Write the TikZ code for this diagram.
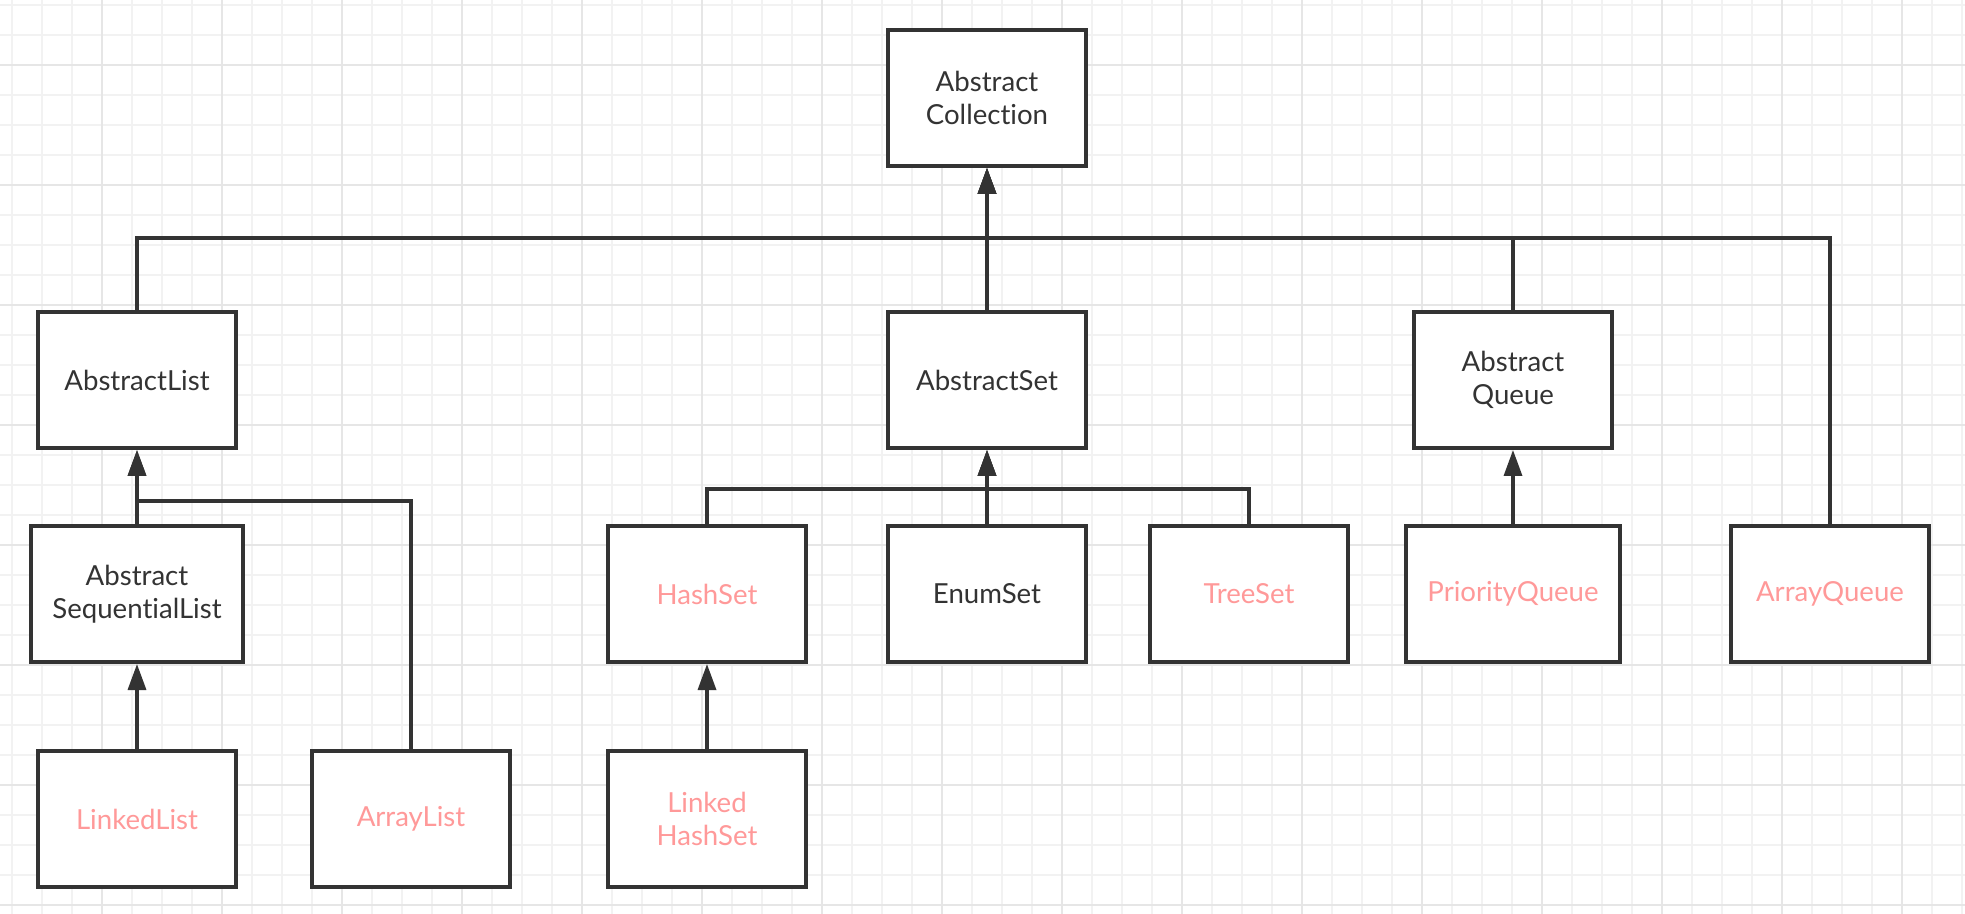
\documentclass[tikz,border=0pt]{standalone}
\usepackage{fontspec}
\setmainfont{Lato}[Ligatures=NoCommon]
\usepackage{tikz}
\usetikzlibrary{arrows.meta, positioning}
\definecolor{inkcolor}{HTML}{333333}
\definecolor{implcolor}{HTML}{FF9999}
\definecolor{minorcolor}{HTML}{F2F2F2}
\definecolor{majorcolor}{HTML}{E6E6E6}

\begin{document}
\begin{tikzpicture}[
    x=0.5pt, y=-0.5pt,
    cls/.style={draw=inkcolor, line width=2pt, fill=white, minimum width=99pt, minimum height=68pt,
                align=center, text=inkcolor, font=\fontsize{13.8}{16.5}\selectfont, inner sep=0pt},
    impl/.style={cls, text=implcolor},
    inh/.style={draw=inkcolor, line width=1.7pt, -{Triangle[length=13pt, width=9pt]}},
    minorgrid/.style={draw=minorcolor, line width=1pt},
    majorgrid/.style={draw=majorcolor, line width=1pt}
]
    \useasboundingbox[fill=white] (0,0) rectangle (1965,914);
    % --- grid paper ---
    \foreach \k in {0,...,65} \draw[minorgrid] ({11.7+30*\k},0) -- ++(0,914);
    \foreach \k in {0,...,30} \draw[minorgrid] (0,{5+30*\k}) -- ++(1965,0);
    \foreach \k in {0,...,15} \draw[majorgrid] ({101.7+120*\k},0) -- ++(0,914);
    \foreach \k in {0,...,7} \draw[majorgrid] (0,{65+120*\k}) -- ++(1965,0);

    % --- root ---
    \node[cls] (coll) at (987,98) {Abstract\\Collection};

    % --- abstract layer ---
    \def\y{380}
    \node[cls] (alist) at (137,\y) {AbstractList};
    \node[cls] (aset) at (987,\y) {AbstractSet};
    \node[cls] (aqueue) at (1513,\y) {Abstract\\Queue};

    % --- second layer ---
    \pgfmathsetmacro{\y}{\y+214}
    \node[cls, minimum width=106pt] (aseq) at (137,\y) {Abstract\\SequentialList};
    \node[impl] (hashset) at (707,\y) {HashSet};
    \node[cls] (enumset) at (987,\y) {EnumSet};
    \node[impl] (treeset) at (1249,\y) {TreeSet};
    \node[impl, minimum width=107pt] (pqueue) at (1513,\y) {PriorityQueue};
    \node[impl] (arrqueue) at (1830,\y) {ArrayQueue};

    % --- bottom layer ---
    \pgfmathsetmacro{\y}{\y+225}
    \node[impl] (linkedlist) at (137,\y) {LinkedList};
    \node[impl] (arraylist) at (411,\y) {ArrayList};
    \node[impl] (lhashset) at (707,\y) {Linked\\HashSet};

    % --- junctions ---
    \coordinate (bus) at (987,238);
    \coordinate (ljoin) at (137,501);
    \coordinate (sjoin) at (987,489);

    % --- inheritance ---
    \draw[inh] (alist.north) |- (bus) -- (coll.south);
    \draw[inh] (aqueue.north) |- (bus) -- (coll.south);
    \draw[inh] (arrqueue.north) |- (bus) -- (coll.south);
    \draw[inh] (aset.north) -- (coll.south);
    \draw[inh] (aseq.north) -- (alist.south);
    \draw[inh] (arraylist.north) |- (ljoin) -- (alist.south);
    \draw[inh] (linkedlist.north) -- (aseq.south);
    \draw[inh] (hashset.north) |- (sjoin) -- (aset.south);
    \draw[inh] (treeset.north) |- (sjoin) -- (aset.south);
    \draw[inh] (enumset.north) -- (aset.south);
    \draw[inh] (lhashset.north) -- (hashset.south);
    \draw[inh] (pqueue.north) -- (aqueue.south);
\end{tikzpicture}
\end{document}
